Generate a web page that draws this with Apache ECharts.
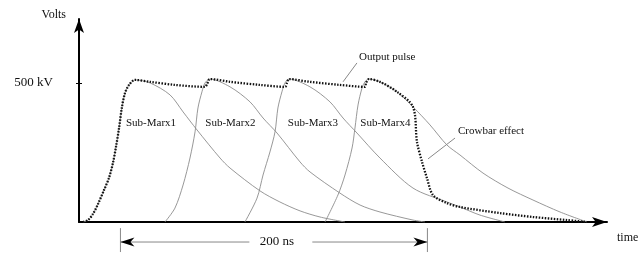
<!DOCTYPE html>
<html>
<head>
<meta charset="utf-8">
<script src="https://cdn.jsdelivr.net/npm/echarts@6/dist/echarts.min.js"></script>
<style>
  html, body { margin: 0; padding: 0; background: #fff; }
  #chart { width: 644px; height: 253px; }
</style>
</head>
<body>
<div id="chart"></div>
<script>
// time in ns, amplitude in kV
const subMarx1 = [
  [2.6, 0], [5.9, 7], [9.1, 29], [12.4, 65], [16.3, 115], [19.5, 158], [22.1, 212],
  [24.1, 270], [26.1, 338], [28.0, 414], [30.0, 464], [32.6, 493], [36.5, 511],
  [46.3, 500], [59.3, 457], [67.8, 396], [76.9, 331], [91.9, 230], [98.4, 194],
  [117.9, 112], [130.9, 72], [144.0, 40], [157.0, 18], [173.3, 0]
];
const subMarx2 = [
  [56.0, 0], [62.5, 50], [67.8, 133], [72.3, 230], [75.6, 324], [77.5, 410],
  [80.1, 468], [82.1, 500], [85.3, 514],
  [98.4, 486], [111.4, 432], [119.9, 374], [129.0, 320], [144.0, 216], [150.5, 180],
  [170.0, 104], [183.1, 61], [196.1, 36], [217.6, 7], [225.4, 0]
];
const subMarx3 = [
  [108.1, 0], [116.0, 86], [119.9, 169], [124.4, 252], [127.7, 324], [129.6, 410],
  [132.2, 468], [134.2, 500], [136.8, 514],
  [150.5, 486], [163.5, 432], [172.0, 374], [181.1, 320], [196.1, 230], [217.6, 122],
  [239.7, 72], [248.2, 54], [261.2, 25], [277.5, 0]
];
const subMarx4 = [
  [160.3, 0], [168.7, 97], [173.3, 169], [177.9, 266], [179.8, 338], [181.8, 421],
  [184.4, 482], [186.3, 504], [188.9, 514],
  [196.1, 504], [207.2, 468], [217.6, 414], [228.7, 349], [239.7, 277], [248.2, 241],
  [263.2, 176], [279.5, 122], [295.8, 79], [313.4, 36], [330.9, 0]
];
const outputPulse = [
  [2.6, 0], [5.9, 7], [9.1, 29], [12.4, 65], [16.3, 115], [19.5, 158], [22.1, 212],
  [24.1, 270], [26.1, 338], [28.0, 414], [30.0, 464], [32.6, 493], [36.5, 511],
  [46.3, 504], [62.5, 493], [82.1, 486], [83.4, 496], [85.3, 514],
  [98.4, 504], [117.9, 493], [134.2, 486], [135.5, 500], [136.8, 514],
  [150.5, 504], [170.0, 493], [186.3, 486], [187.0, 500], [188.9, 514],
  [196.1, 504], [207.2, 468], [217.6, 414], [220.2, 288], [223.5, 216], [226.7, 158],
  [230.6, 97], [239.7, 68], [248.2, 54], [274.3, 32], [295.8, 18], [317.9, 7], [330.9, 0]
];
const marxNames = ['Sub-Marx1', 'Sub-Marx2', 'Sub-Marx3', 'Sub-Marx4'];
const yTicks = [500];
const spanStart = 27;   // ns, start of the 200 ns marker
const spanLength = 200; // ns

const font = 'Liberation Serif, Times New Roman, serif';
const thin = { color: '#8c8c8c', width: 0.9 };

const chart = echarts.init(document.getElementById('chart'));

function pulse(name, data) {
  return {
    name: name,
    type: 'line',
    data: data,
    symbol: 'none',
    smooth: 0.3,
    silent: true,
    lineStyle: thin,
    z: 2
  };
}

const option = {
  animation: false,
  grid: { left: 79, right: 37, top: 19, bottom: 31 },
  xAxis: {
    type: 'value',
    min: 0,
    max: 344,
    name: 'time',
    nameLocation: 'end',
    nameGap: 10,
    nameTextStyle: {
      fontFamily: font, fontSize: 12, color: '#111',
      verticalAlign: 'top', padding: [10, 0, 0, 0]
    },
    axisLine: {
      symbol: ['none', 'arrow'],
      symbolSize: [7.5, 15],
      lineStyle: { color: '#000', width: 2 }
    },
    axisTick: { show: false },
    axisLabel: { show: false },
    splitLine: { show: false }
  },
  yAxis: [
    {
      type: 'value',
      min: 0,
      max: 730,
      name: 'Volts',
      nameLocation: 'end',
      nameGap: 4,
      nameTextStyle: {
        fontFamily: font, fontSize: 12, color: '#111',
        align: 'right', verticalAlign: 'middle', padding: [0, 13, 0, 0]
      },
      axisLine: {
        symbol: ['none', 'arrow'],
        symbolSize: [7.5, 14],
        lineStyle: { color: '#000', width: 2 }
      },
      axisTick: {
        show: true, customValues: yTicks, length: 3,
        lineStyle: { color: '#000', width: 1 }
      },
      axisLabel: {
        customValues: yTicks,
        margin: 26,
        fontFamily: font,
        fontSize: 13,
        color: '#111',
        formatter: (v) => v + ' kV'
      },
      splitLine: { show: false }
    },
    {
      type: 'value',
      min: 0,
      max: 730,
      position: 'left',
      axisLine: { show: false },
      axisTick: {
        show: true, inside: true, customValues: yTicks, length: 3,
        lineStyle: { color: '#000', width: 1 }
      },
      axisLabel: { show: false },
      splitLine: { show: false }
    }
  ],
  series: [
    pulse(marxNames[0], subMarx1),
    pulse(marxNames[1], subMarx2),
    pulse(marxNames[2], subMarx3),
    pulse(marxNames[3], subMarx4),
    {
      name: 'Output pulse',
      type: 'line',
      data: outputPulse,
      symbol: 'none',
      smooth: 0.3,
      silent: true,
      lineStyle: { color: '#111', width: 2.3, type: [1.5, 1.5] },
      z: 3
    }
  ]
};

chart.setOption(option);

// annotations placed through the chart's own scales
const px = (p) => chart.convertToPixel({ xAxisIndex: 0, yAxisIndex: 0 }, p);

function text(str, p, size, align) {
  const q = px(p);
  return {
    type: 'text', x: q[0], y: q[1], silent: true,
    style: {
      text: str, fill: '#111', fontFamily: font, fontSize: size,
      align: align || 'center', verticalAlign: 'middle'
    }
  };
}
function seg(a, b, color) {
  const p = px(a), q = px(b);
  return {
    type: 'line', silent: true,
    shape: { x1: p[0], y1: p[1], x2: q[0], y2: q[1] },
    style: { stroke: color || '#888', lineWidth: 1 }
  };
}
function head(p, dir) {
  const q = px(p);
  const len = 14, half = 4.5, notch = 10;
  return {
    type: 'polygon', silent: true,
    shape: {
      points: [
        [q[0], q[1]],
        [q[0] + dir * len, q[1] - half],
        [q[0] + dir * notch, q[1]],
        [q[0] + dir * len, q[1] + half]
      ]
    },
    style: { fill: '#000' }
  };
}

const labelLevel = 356;
const labelTimes = [46.9, 98.6, 152.4, 199.6];
const spanEnd = spanStart + spanLength;
const spanMid = spanStart + spanLength * 0.51;

const graphics = [];
marxNames.forEach((n, i) => graphics.push(text(n, [labelTimes[i], labelLevel], 11)));
graphics.push(text('Output pulse', [182.4, 594], 11, 'left'));
graphics.push(seg([181.1, 572], [172.0, 504]));
graphics.push(text('Crowbar effect', [246.9, 327], 11, 'left'));
graphics.push(seg([245.0, 302], [227.4, 227]));

// 200 ns marker below the time axis
graphics.push(seg([spanStart, -22], [spanStart, -108]));
graphics.push(seg([spanEnd, -22], [spanEnd, -108]));
graphics.push(seg([spanStart, -72], [spanMid - 18, -72]));
graphics.push(seg([spanMid + 23, -72], [spanEnd, -72]));
graphics.push(head([spanStart, -72], 1));
graphics.push(head([spanEnd, -72], -1));
graphics.push(text(spanLength + ' ns', [spanMid, -72], 13));

chart.setOption({ graphic: graphics });
</script>
</body>
</html>
